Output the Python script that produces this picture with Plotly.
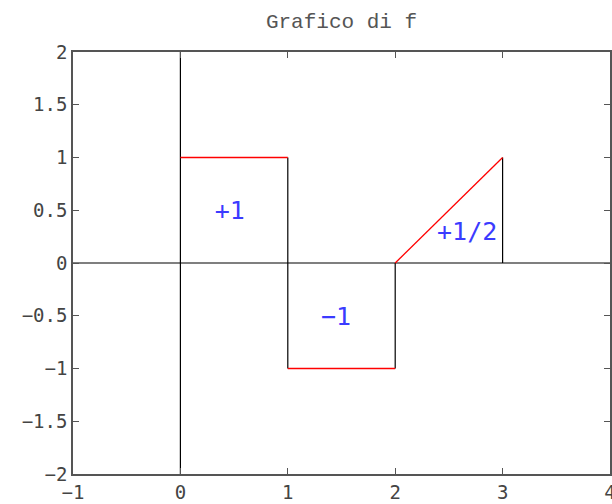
import plotly.graph_objects as go

# Function f: piecewise segments (red)
seg_x = [[0, 1], [1, 2], [2, 3]]
seg_y = [[1, 1], [-1, -1], [0, 1]]

# Black vertical connectors / boundaries
vert_x = [1, 2, 3]
vert_y0 = [1, -1, 0]
vert_y1 = [-1, 0, 1]

# Area labels
label_x = [0.46, 1.45, 2.67]
label_y = [0.48, -0.53, 0.28]
label_text = ["+1", "\u22121", "+1/2"]

x_range = [-1, 4]
y_range = [-2, 2]
x_ticks = [-1, 0, 1, 2, 3, 4]
y_ticks = [-2, -1.5, -1, -0.5, 0, 0.5, 1, 1.5, 2]


def fmt(v):
    return ("\u2212" + ("%g" % -v)) if v < 0 else ("%g" % v)


fig = go.Figure()

# axes through origin
fig.add_trace(go.Scatter(x=x_range, y=[0, 0], mode="lines",
                         line=dict(color="black", width=1.2), showlegend=False, hoverinfo="skip"))
fig.add_trace(go.Scatter(x=[0, 0], y=y_range, mode="lines",
                         line=dict(color="black", width=1.2), showlegend=False, hoverinfo="skip"))

for xv, a, b in zip(vert_x, vert_y0, vert_y1):
    fig.add_trace(go.Scatter(x=[xv, xv], y=[a, b], mode="lines",
                             line=dict(color="black", width=1.2), showlegend=False, hoverinfo="skip"))

for xs, ys in zip(seg_x, seg_y):
    fig.add_trace(go.Scatter(x=xs, y=ys, mode="lines",
                             line=dict(color="#ff0000", width=1.3), showlegend=False, hoverinfo="skip"))

fig.add_trace(go.Scatter(x=label_x, y=label_y, mode="text", text=label_text,
                         textfont=dict(family="DejaVu Sans Mono", size=25, color="#3b3bff"),
                         showlegend=False, hoverinfo="skip"))

tickfont = dict(family="DejaVu Sans Mono", size=19, color="#444444")

fig.update_layout(
    width=612, height=504,
    margin=dict(l=73, r=2, t=52, b=30),
    paper_bgcolor="white", plot_bgcolor="white",
    title=dict(text="Grafico di f", x=0.5, xref="paper", xanchor="center", y=0.96, yanchor="middle",
               font=dict(family="Liberation Mono", size=21, color="#555555")),
    xaxis=dict(range=x_range, tickvals=x_ticks, ticktext=[fmt(v) for v in x_ticks],
               showgrid=False, zeroline=False, showline=True, linecolor="#555555", linewidth=1.5,
               mirror="allticks", ticks="inside", ticklen=6, tickcolor="#555555",
               tickfont=tickfont, automargin=False, ticklabeloverflow="allow"),
    yaxis=dict(range=y_range, tickvals=y_ticks, ticktext=[fmt(v) for v in y_ticks],
               showgrid=False, zeroline=False, showline=True, linecolor="#555555", linewidth=1.5,
               mirror="allticks", ticks="inside", ticklen=6, tickcolor="#555555",
               tickfont=tickfont, automargin=False, ticklabeloverflow="allow"),
)

fig.write_html("out.html", config={"displayModeBar": False},
               post_script="document.body.style.margin='0';document.body.style.overflow='hidden';")
